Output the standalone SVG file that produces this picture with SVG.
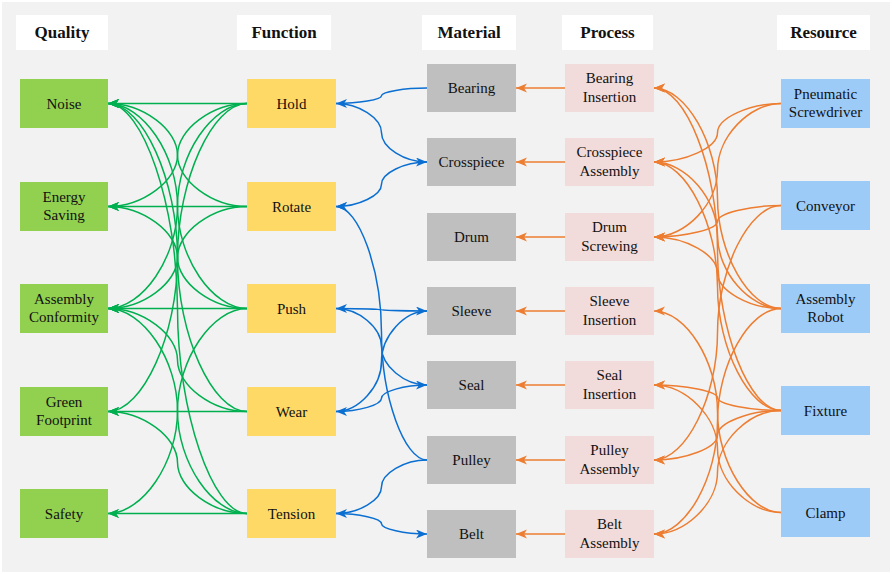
<svg xmlns="http://www.w3.org/2000/svg" width="892" height="574" viewBox="0 0 892 574">
<style>
.hdr{fill:#ffffff}
.ht{font-family:'Liberation Serif','Times New Roman',Tinos,'DejaVu Serif',serif;font-size:17px;font-weight:bold;fill:#111;text-anchor:middle}
.t{font-family:'Liberation Serif','Times New Roman',Tinos,'DejaVu Serif',serif;font-size:15px;fill:#111;text-anchor:middle}
.q{fill:#92d050}
.f{fill:#ffd966}
.m{fill:#bfbfbf}
.p{fill:#f2dcdb}
.r{fill:#9dcbf8}
.eg{fill:none;stroke:#00b050;stroke-width:1.5;marker-end:url(#ag)}
.eb{fill:none;stroke:#0b6fd1;stroke-width:1.5;marker-end:url(#ab)}
.eo{fill:none;stroke:#ed7d31;stroke-width:1.5;marker-end:url(#ao)}
</style>
<defs>
<marker id="ag" markerUnits="userSpaceOnUse" markerWidth="12" markerHeight="10" refX="11" refY="4.5" orient="auto"><path d="M0,0 L11,4.5 L0,9 L3,4.5 Z" fill="#00b050"/></marker>
<marker id="ab" markerUnits="userSpaceOnUse" markerWidth="12" markerHeight="10" refX="11" refY="4.5" orient="auto"><path d="M0,0 L11,4.5 L0,9 L3,4.5 Z" fill="#0b6fd1"/></marker>
<marker id="ao" markerUnits="userSpaceOnUse" markerWidth="12" markerHeight="10" refX="11" refY="4.5" orient="auto"><path d="M0,0 L11,4.5 L0,9 L3,4.5 Z" fill="#ed7d31"/></marker>
</defs>
<rect x="0" y="0" width="892" height="574" fill="#ffffff"/>
<rect x="2" y="2" width="888" height="570" fill="#f2f2f2"/>

<g id="headers">
<rect class="hdr" x="16" y="15" width="92" height="35"/><text class="ht" x="62" y="38">Quality</text>
<rect class="hdr" x="237" y="15" width="94" height="35"/><text class="ht" x="284" y="38">Function</text>
<rect class="hdr" x="422" y="15" width="94" height="35"/><text class="ht" x="469" y="38">Material</text>
<rect class="hdr" x="562" y="15" width="91" height="35"/><text class="ht" x="607.5" y="38">Process</text>
<rect class="hdr" x="777" y="15" width="93" height="35"/><text class="ht" x="823.5" y="38">Resource</text>
</g>

<g id="connectors">
<path class="eg" d="M247,103.5 L108,103.5"/>
<path class="eg" d="M247,206.5 L108,206.5"/>
<path class="eg" d="M247,308.5 L108,308.5"/>
<path class="eg" d="M247,411.5 L108,411.5"/>
<path class="eg" d="M247,513.5 L108,513.5"/>
<path class="eg" d="M247,103.5 C212.25,103.5 177.5,129.25 177.5,155 C177.5,180.75 142.75,206.5 108,206.5"/>
<path class="eg" d="M247,103.5 C212.25,103.5 177.5,154.75 177.5,206 C177.5,257.25 142.75,308.5 108,308.5"/>
<path class="eg" d="M247,103.5 C212.25,103.5 177.5,180.5 177.5,257.5 C177.5,334.5 142.75,411.5 108,411.5"/>
<path class="eg" d="M247,206.5 C212.25,206.5 177.5,180.75 177.5,155 C177.5,129.25 142.75,103.5 108,103.5"/>
<path class="eg" d="M247,206.5 C212.25,206.5 177.5,232 177.5,257.5 C177.5,283 142.75,308.5 108,308.5"/>
<path class="eg" d="M247,308.5 C212.25,308.5 177.5,257.25 177.5,206 C177.5,154.75 142.75,103.5 108,103.5"/>
<path class="eg" d="M247,308.5 C212.25,308.5 177.5,283 177.5,257.5 C177.5,232 142.75,206.5 108,206.5"/>
<path class="eg" d="M247,308.5 C212.25,308.5 177.5,359.75 177.5,411 C177.5,462.25 142.75,513.5 108,513.5"/>
<path class="eg" d="M247,411.5 C212.25,411.5 177.5,334.5 177.5,257.5 C177.5,180.5 142.75,103.5 108,103.5"/>
<path class="eg" d="M247,411.5 C212.25,411.5 177.5,385.75 177.5,360 C177.5,334.25 142.75,308.5 108,308.5"/>
<path class="eg" d="M247,513.5 C212.25,513.5 177.5,411 177.5,308.5 C177.5,206 142.75,103.5 108,103.5"/>
<path class="eg" d="M247,513.5 C212.25,513.5 177.5,462.25 177.5,411 C177.5,359.75 142.75,308.5 108,308.5"/>
<path class="eg" d="M247,513.5 C212.25,513.5 177.5,488 177.5,462.5 C177.5,437 142.75,411.5 108,411.5"/>
<path class="eb" d="M427,88 C404.25,88 381.5,91.875 381.5,95.75 C381.5,99.625 358.75,103.5 336,103.5"/>
<path class="eb" d="M336,103.5 C358.75,103.5 381.5,118.125 381.5,132.75 C381.5,147.375 404.25,162 427,162"/>
<path class="eb" d="M427,162 C404.25,162 381.5,173.125 381.5,184.25 C381.5,195.375 358.75,206.5 336,206.5"/>
<path class="eb" d="M427,460 C404.25,460 381.5,396.625 381.5,333.25 C381.5,269.875 358.75,206.5 336,206.5"/>
<path class="eb" d="M427,311 C404.25,311 381.5,310.375 381.5,309.75 C381.5,309.125 358.75,308.5 336,308.5"/>
<path class="eb" d="M336,308.5 C358.75,308.5 381.5,327.625 381.5,346.75 C381.5,365.875 404.25,385 427,385"/>
<path class="eb" d="M336,411.5 C358.75,411.5 381.5,386.375 381.5,361.25 C381.5,336.125 404.25,311 427,311"/>
<path class="eb" d="M427,385 C404.25,385 381.5,391.625 381.5,398.25 C381.5,404.875 358.75,411.5 336,411.5"/>
<path class="eb" d="M427,460 C404.25,460 381.5,473.375 381.5,486.75 C381.5,500.125 358.75,513.5 336,513.5"/>
<path class="eb" d="M336,513.5 C358.75,513.5 381.5,518.625 381.5,523.75 C381.5,528.875 404.25,534 427,534"/>
<path class="eo" d="M565,88 L516,88"/>
<path class="eo" d="M565,162 L516,162"/>
<path class="eo" d="M565,237 L516,237"/>
<path class="eo" d="M565,311 L516,311"/>
<path class="eo" d="M565,385 L516,385"/>
<path class="eo" d="M565,460 L516,460"/>
<path class="eo" d="M565,534 L516,534"/>
<path class="eo" d="M781,103.5 C749.25,103.5 717.5,118.125 717.5,132.75 C717.5,147.375 685.75,162 654,162"/>
<path class="eo" d="M781,103.5 C749.25,103.5 717.5,136.875 717.5,170.25 C717.5,203.625 685.75,237 654,237"/>
<path class="eo" d="M781,205.5 C749.25,205.5 717.5,213.375 717.5,221.25 C717.5,229.125 685.75,237 654,237"/>
<path class="eo" d="M781,205.5 C749.25,205.5 717.5,269.125 717.5,332.75 C717.5,396.375 685.75,460 654,460"/>
<path class="eo" d="M781,308.5 C749.25,308.5 717.5,253.375 717.5,198.25 C717.5,143.125 685.75,88 654,88"/>
<path class="eo" d="M781,308.5 C749.25,308.5 717.5,271.875 717.5,235.25 C717.5,198.625 685.75,162 654,162"/>
<path class="eo" d="M781,308.5 C749.25,308.5 717.5,290.625 717.5,272.75 C717.5,254.875 685.75,237 654,237"/>
<path class="eo" d="M781,308.5 C749.25,308.5 717.5,364.875 717.5,421.25 C717.5,477.625 685.75,534 654,534"/>
<path class="eo" d="M781,410.5 C749.25,410.5 717.5,329.875 717.5,249.25 C717.5,168.625 685.75,88 654,88"/>
<path class="eo" d="M781,410.5 C749.25,410.5 717.5,348.375 717.5,286.25 C717.5,224.125 685.75,162 654,162"/>
<path class="eo" d="M781,410.5 C749.25,410.5 717.5,404.125 717.5,397.75 C717.5,391.375 685.75,385 654,385"/>
<path class="eo" d="M781,410.5 C749.25,410.5 717.5,422.875 717.5,435.25 C717.5,447.625 685.75,460 654,460"/>
<path class="eo" d="M781,410.5 C749.25,410.5 717.5,441.375 717.5,472.25 C717.5,503.125 685.75,534 654,534"/>
<path class="eo" d="M781,512.5 C749.25,512.5 717.5,462.125 717.5,411.75 C717.5,361.375 685.75,311 654,311"/>
<path class="eo" d="M781,512.5 C749.25,512.5 717.5,480.625 717.5,448.75 C717.5,416.875 685.75,385 654,385"/>
</g>

<g id="q-noise"><rect class="q" x="20" y="79" width="88" height="49"/><text class="t" x="64" y="109">Noise</text></g>
<g id="q-energy"><rect class="q" x="20" y="182" width="88" height="49"/><text class="t" x="64" y="201.5">Energy</text><text class="t" x="64" y="220">Saving</text></g>
<g id="q-assembly"><rect class="q" x="20" y="284" width="88" height="49"/><text class="t" x="64" y="303.5">Assembly</text><text class="t" x="64" y="322">Conformity</text></g>
<g id="q-green"><rect class="q" x="20" y="387" width="88" height="49"/><text class="t" x="64" y="406.5">Green</text><text class="t" x="64" y="425">Footprint</text></g>
<g id="q-safety"><rect class="q" x="20" y="489" width="88" height="49"/><text class="t" x="64" y="519">Safety</text></g>

<g id="f-hold"><rect class="f" x="247" y="79" width="89" height="49"/><text class="t" x="291.5" y="109">Hold</text></g>
<g id="f-rotate"><rect class="f" x="247" y="182" width="89" height="49"/><text class="t" x="291.5" y="212">Rotate</text></g>
<g id="f-push"><rect class="f" x="247" y="284" width="89" height="49"/><text class="t" x="291.5" y="314">Push</text></g>
<g id="f-wear"><rect class="f" x="247" y="387" width="89" height="49"/><text class="t" x="291.5" y="417">Wear</text></g>
<g id="f-tension"><rect class="f" x="247" y="489" width="89" height="49"/><text class="t" x="291.5" y="519">Tension</text></g>

<g id="m-bearing"><rect class="m" x="427" y="64" width="89" height="48"/><text class="t" x="471.5" y="93">Bearing</text></g>
<g id="m-crosspiece"><rect class="m" x="427" y="138" width="89" height="48"/><text class="t" x="471.5" y="167">Crosspiece</text></g>
<g id="m-drum"><rect class="m" x="427" y="213" width="89" height="48"/><text class="t" x="471.5" y="242">Drum</text></g>
<g id="m-sleeve"><rect class="m" x="427" y="287" width="89" height="48"/><text class="t" x="471.5" y="316">Sleeve</text></g>
<g id="m-seal"><rect class="m" x="427" y="361" width="89" height="48"/><text class="t" x="471.5" y="390">Seal</text></g>
<g id="m-pulley"><rect class="m" x="427" y="436" width="89" height="48"/><text class="t" x="471.5" y="465">Pulley</text></g>
<g id="m-belt"><rect class="m" x="427" y="510" width="89" height="48"/><text class="t" x="471.5" y="539">Belt</text></g>

<g id="p-bearing"><rect class="p" x="565" y="64" width="89" height="48"/><text class="t" x="609.5" y="83">Bearing</text><text class="t" x="609.5" y="101.5">Insertion</text></g>
<g id="p-crosspiece"><rect class="p" x="565" y="138" width="89" height="48"/><text class="t" x="609.5" y="157">Crosspiece</text><text class="t" x="609.5" y="175.5">Assembly</text></g>
<g id="p-drum"><rect class="p" x="565" y="213" width="89" height="48"/><text class="t" x="609.5" y="232">Drum</text><text class="t" x="609.5" y="250.5">Screwing</text></g>
<g id="p-sleeve"><rect class="p" x="565" y="287" width="89" height="48"/><text class="t" x="609.5" y="306">Sleeve</text><text class="t" x="609.5" y="324.5">Insertion</text></g>
<g id="p-seal"><rect class="p" x="565" y="361" width="89" height="48"/><text class="t" x="609.5" y="380">Seal</text><text class="t" x="609.5" y="398.5">Insertion</text></g>
<g id="p-pulley"><rect class="p" x="565" y="436" width="89" height="48"/><text class="t" x="609.5" y="455">Pulley</text><text class="t" x="609.5" y="473.5">Assembly</text></g>
<g id="p-belt"><rect class="p" x="565" y="510" width="89" height="48"/><text class="t" x="609.5" y="529">Belt</text><text class="t" x="609.5" y="547.5">Assembly</text></g>

<g id="r-pneumatic"><rect class="r" x="781" y="79" width="89" height="49"/><text class="t" x="825.5" y="98.5">Pneumatic</text><text class="t" x="825.5" y="117">Screwdriver</text></g>
<g id="r-conveyor"><rect class="r" x="781" y="181" width="89" height="49"/><text class="t" x="825.5" y="211">Conveyor</text></g>
<g id="r-robot"><rect class="r" x="781" y="284" width="89" height="49"/><text class="t" x="825.5" y="303.5">Assembly</text><text class="t" x="825.5" y="322">Robot</text></g>
<g id="r-fixture"><rect class="r" x="781" y="386" width="89" height="49"/><text class="t" x="825.5" y="416">Fixture</text></g>
<g id="r-clamp"><rect class="r" x="781" y="488" width="89" height="49"/><text class="t" x="825.5" y="518">Clamp</text></g>
</svg>
